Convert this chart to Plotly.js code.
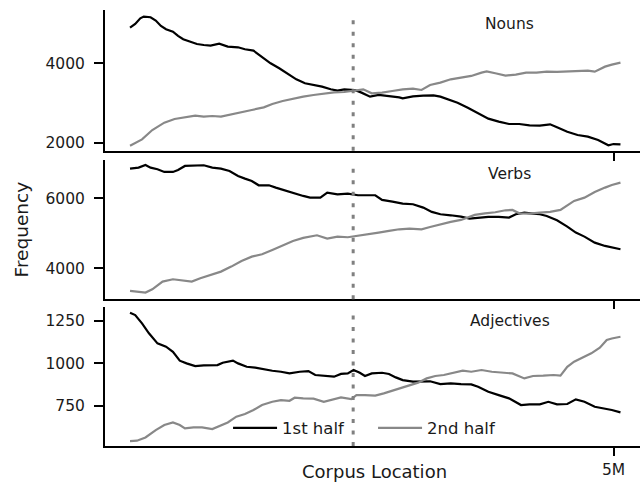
<!DOCTYPE html>
<html>
<head>
<meta charset="utf-8">
<script src="https://cdn.plot.ly/plotly-3.0.1.min.js"></script>
<style>html,body{margin:0;padding:0;background:#fff;}#chart{width:641px;height:483px;}</style>
</head>
<body>
<div id="chart"></div>
<script>
// Corpus location in millions of tokens
const splitPoint = 2.44;
const seriesNames = ['1st half', '2nd half'];
const panelLabels = ['Nouns', 'Verbs', 'Adjectives'];

const nounsX1 = [0.246,0.297,0.347,0.381,0.448,0.499,0.550,0.600,0.668,0.718,0.769,0.836,0.904,0.971,1.038,1.123,1.207,1.308,1.376,1.460,1.544,1.628,1.713,1.797,1.881,1.966,2.050,2.134,2.219,2.286,2.353,2.455,2.522,2.606,2.691,2.792,2.893,2.927,3.028,3.129,3.230,3.297,3.365,3.466,3.567,3.668,3.769,3.871,3.972,4.073,4.174,4.275,4.376,4.444,4.545,4.646,4.747,4.848,4.949,5.000,5.068];
const nounsY1 = [4899,4992,5134,5176,5160,5076,4941,4857,4798,4689,4605,4546,4487,4462,4445,4496,4420,4403,4353,4319,4168,4000,3874,3731,3597,3496,3454,3412,3345,3311,3345,3328,3261,3160,3202,3177,3143,3118,3168,3185,3193,3160,3092,3008,2882,2740,2605,2530,2471,2471,2437,2429,2462,2387,2277,2193,2151,2067,1933,1966,1958];
const nounsX2 = [0.246,0.364,0.465,0.583,0.684,0.786,0.887,0.971,1.055,1.140,1.224,1.342,1.443,1.561,1.645,1.747,1.848,1.949,2.050,2.151,2.252,2.353,2.455,2.539,2.623,2.724,2.825,2.927,3.028,3.112,3.196,3.297,3.399,3.500,3.601,3.702,3.753,3.837,3.938,4.039,4.140,4.242,4.343,4.444,4.545,4.646,4.747,4.815,4.916,4.983,5.068];
const nounsY2 = [1924,2084,2319,2504,2597,2639,2681,2656,2672,2656,2698,2756,2824,2891,2975,3050,3109,3160,3202,3235,3269,3277,3311,3345,3244,3261,3303,3345,3361,3328,3454,3513,3597,3630,3681,3765,3798,3748,3689,3714,3765,3765,3790,3782,3798,3807,3815,3790,3916,3966,4017];

const verbsX1 = [0.246,0.330,0.398,0.448,0.516,0.583,0.668,0.718,0.786,0.870,0.971,1.055,1.140,1.224,1.308,1.376,1.443,1.511,1.612,1.679,1.780,1.881,1.949,2.016,2.117,2.185,2.286,2.387,2.488,2.657,2.724,2.826,2.927,3.028,3.129,3.213,3.298,3.399,3.500,3.584,3.668,3.769,3.871,3.972,4.039,4.123,4.208,4.275,4.343,4.444,4.545,4.629,4.714,4.815,4.916,4.983,5.068];
const verbsY1 = [6848,6876,6952,6876,6829,6752,6752,6810,6924,6924,6943,6876,6848,6781,6638,6562,6495,6371,6371,6305,6210,6133,6067,6019,6019,6162,6114,6133,6086,6086,5952,5905,5848,5829,5733,5610,5543,5514,5476,5419,5448,5467,5467,5448,5543,5590,5562,5543,5495,5371,5190,5019,4905,4733,4638,4590,4543];
const verbsX2 = [0.246,0.330,0.398,0.465,0.566,0.668,0.769,0.853,0.937,1.038,1.140,1.241,1.342,1.443,1.544,1.645,1.747,1.848,1.949,2.084,2.185,2.286,2.387,2.488,2.589,2.690,2.792,2.893,2.994,3.112,3.196,3.297,3.399,3.500,3.567,3.635,3.736,3.837,3.938,4.006,4.073,4.174,4.275,4.376,4.478,4.545,4.612,4.714,4.815,4.916,4.983,5.068];
const verbsY2 = [3352,3333,3305,3400,3619,3686,3657,3619,3714,3800,3905,4048,4210,4333,4400,4524,4657,4781,4867,4943,4848,4905,4886,4924,4971,5019,5067,5114,5133,5114,5181,5257,5324,5381,5448,5524,5571,5600,5657,5667,5571,5562,5590,5610,5667,5800,5924,6019,6181,6305,6381,6448];

const adjX1 = [0.246,0.297,0.364,0.432,0.516,0.600,0.668,0.735,0.802,0.887,0.971,1.106,1.157,1.258,1.308,1.393,1.477,1.561,1.645,1.730,1.814,1.915,2.000,2.067,2.151,2.252,2.320,2.387,2.444,2.505,2.556,2.623,2.724,2.792,2.859,2.927,3.028,3.129,3.196,3.297,3.399,3.500,3.601,3.668,3.769,3.871,3.972,4.090,4.174,4.275,4.359,4.444,4.545,4.629,4.714,4.815,4.916,4.983,5.068];
const adjY1 = [1297,1283,1234,1176,1117,1098,1068,1016,1000,984,988,990,1004,1016,1000,980,975,965,957,951,941,951,955,932,926,922,938,941,961,945,926,941,945,938,918,902,893,893,895,879,883,879,877,863,834,814,795,756,760,760,775,760,762,789,775,746,736,727,713];
const adjX2 = [0.246,0.314,0.398,0.499,0.583,0.668,0.735,0.786,0.870,0.954,1.055,1.123,1.207,1.291,1.376,1.460,1.544,1.645,1.730,1.814,1.865,1.949,2.050,2.151,2.219,2.320,2.421,2.472,2.556,2.657,2.741,2.826,2.910,2.994,3.078,3.163,3.247,3.331,3.432,3.517,3.601,3.702,3.803,3.904,4.006,4.123,4.208,4.309,4.410,4.478,4.545,4.612,4.714,4.781,4.865,4.933,4.983,5.068];
const adjY2 = [545,547,566,609,639,654,639,619,625,625,615,633,654,688,703,727,756,775,785,781,799,795,793,775,785,801,791,814,814,811,824,840,859,873,887,912,926,932,945,957,951,961,951,945,941,912,926,928,932,928,980,1010,1039,1059,1092,1137,1146,1156];

const xTickVals = [5];
const xTickText = ['5M'];
const yTicks1 = [2000, 4000];
const yTicks2 = [4000, 6000];
const yTicks3 = [750, 1000, 1250];

const colors = ['#000000', '#888888'];
const panels = [
  {sx: 'x', sy: 'y', data: [[nounsX1, nounsY1], [nounsX2, nounsY2]]},
  {sx: 'x2', sy: 'y2', data: [[verbsX1, verbsY1], [verbsX2, verbsY2]]},
  {sx: 'x3', sy: 'y3', data: [[adjX1, adjY1], [adjX2, adjY2]]}
];

const traces = [];
panels.forEach((p, pi) => {
  p.data.forEach((d, si) => {
    traces.push({
      type: 'scatter', mode: 'lines',
      x: d[0], y: d[1],
      xaxis: p.sx, yaxis: p.sy,
      name: seriesNames[si],
      legendgroup: seriesNames[si],
      showlegend: pi === 2,
      line: {color: colors[si], width: 2.2},
      hoverinfo: 'skip'
    });
  });
});

const fontFam = 'DejaVu Sans, sans-serif';
function xAxis(anchor, labels) {
  return {
    anchor: anchor, domain: [0, 1], range: [0, 5.26],
    tickvals: xTickVals, ticktext: xTickText, showticklabels: labels,
    ticks: 'outside', ticklen: 8, tickwidth: 2, tickcolor: '#000',
    showline: true, linewidth: 2, linecolor: '#000',
    showgrid: false, zeroline: false, fixedrange: true,
    tickfont: {size: 15.5, family: fontFam, color: '#1a1a1a'}
  };
}
function yAxis(anchor, domain, range, tv) {
  return {
    anchor: anchor, domain: domain, range: range,
    tickvals: tv, ticktext: tv.map(String),
    ticks: 'outside', ticklen: 9, tickwidth: 2, tickcolor: '#000',
    showline: true, linewidth: 2, linecolor: '#000',
    showgrid: false, zeroline: false, fixedrange: true,
    ticklabelstandoff: 6,
    tickfont: {size: 15.5, family: fontFam, color: '#1a1a1a'}
  };
}

const layout = {
  width: 641, height: 483,
  margin: {l: 105, r: 1, t: 10, b: 37, pad: 0, autoexpand: false},
  paper_bgcolor: '#fff', plot_bgcolor: '#fff',
  font: {family: fontFam, size: 15.5, color: '#1a1a1a'},
  showlegend: true,
  legend: {
    orientation: 'h', x: 0.23, y: 0.041, xanchor: 'left', yanchor: 'middle',
    font: {size: 16.5, family: fontFam, color: '#1a1a1a'},
    bgcolor: 'rgba(0,0,0,0)', borderwidth: 0,
    itemwidth: 44, entrywidth: 86, entrywidthmode: 'pixels'
  },
  xaxis: xAxis('y', false),
  xaxis2: Object.assign(xAxis('y2', false), {matches: 'x'}),
  xaxis3: Object.assign(xAxis('y3', true), {matches: 'x'}),
  yaxis: yAxis('x', [0.6773, 1], [1798, 5343], yTicks1),
  yaxis2: Object.assign(yAxis('x2', [0.3365, 0.656], [3114, 7094], yTicks2),
    {title: {text: 'Frequency', font: {size: 18.5, family: fontFam, color: '#1a1a1a'}, standoff: 12}}),
  yaxis3: yAxis('x3', [0, 0.3195], [516, 1332], yTicks3),
  shapes: panels.map(p => ({
    type: 'line', xref: p.sx, yref: p.sy + ' domain',
    x0: splitPoint, x1: splitPoint, y0: 0, y1: 0.98,
    line: {color: '#808080', width: 3, dash: '4px,7.5px'}
  })),
  annotations: panels.map((p, i) => ({
    xref: p.sx + ' domain', yref: p.sy + ' domain',
    x: 0.757, y: 0.9, xanchor: 'center', yanchor: 'middle',
    text: panelLabels[i], showarrow: false,
    font: {size: 15.5, family: fontFam, color: '#1a1a1a'}
  })).concat([{
    xref: 'paper', yref: 'paper', x: (374 - 105) / 535, y: (446 - 471) / 436,
    xanchor: 'center', yanchor: 'middle', showarrow: false,
    text: 'Corpus Location',
    font: {size: 18, family: fontFam, color: '#1a1a1a'}
  }])
};

Plotly.newPlot('chart', traces, layout, {staticPlot: true, displayModeBar: false});
</script>
</body>
</html>
